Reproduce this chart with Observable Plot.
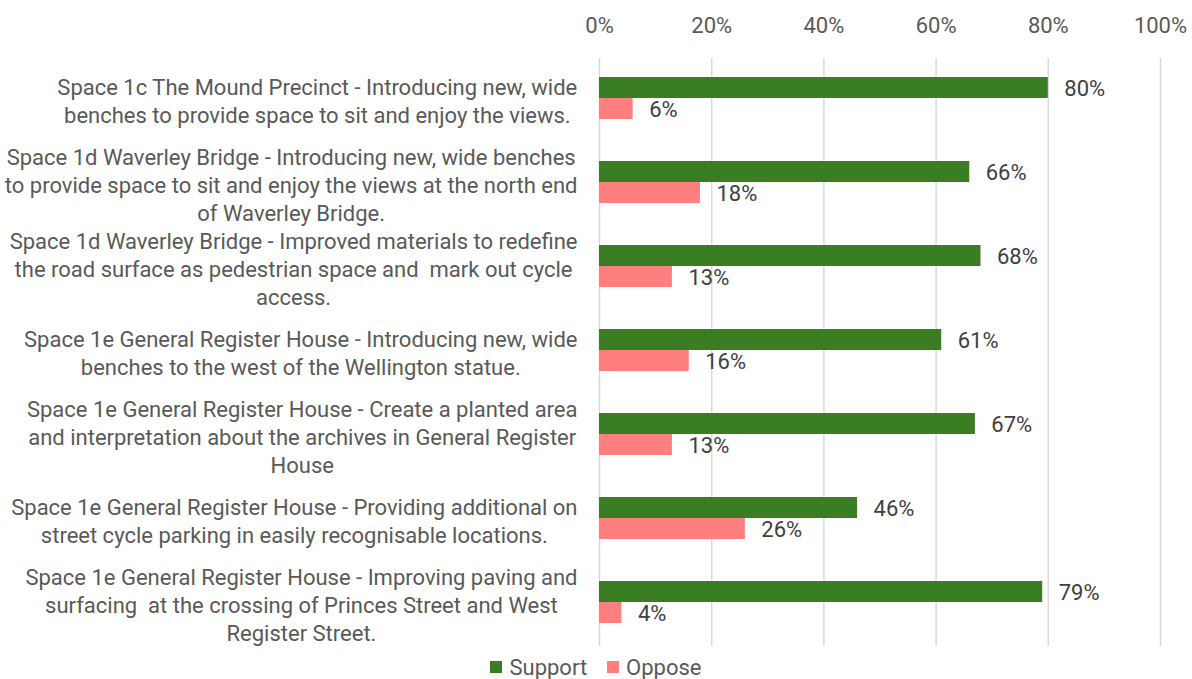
<!DOCTYPE html>
<html>
<head>
<meta charset="utf-8">
<script src="https://cdn.jsdelivr.net/npm/d3@7"></script>
<script src="https://cdn.jsdelivr.net/npm/@observablehq/plot@0.6"></script>
<style>
  html, body { margin: 0; padding: 0; background: #fff; }
  #legend { display: flex; justify-content: center; align-items: center; font-family: Roboto, sans-serif; font-size: 22px; color: #595959; height: 26px; margin-top: 4px; }
  .sw { display: inline-block; width: 12px; height: 12px; margin-right: 7px; }
  .item { display: flex; align-items: center; margin: 0 10px; }
</style>
</head>
<body>
<div id="chart"></div>
<div id="legend"></div>
<script>
const categories = [
  "Space 1c The Mound Precinct - Introducing new, wide\nbenches to provide space to sit and enjoy the views.",
  "Space 1d Waverley Bridge - Introducing new, wide benches\nto provide space to sit and enjoy the views at the north end\nof Waverley Bridge.",
  "Space 1d Waverley Bridge - Improved materials to redefine\nthe road surface as pedestrian space and  mark out cycle\naccess.",
  "Space 1e General Register House - Introducing new, wide\nbenches to the west of the Wellington statue.",
  "Space 1e General Register House - Create a planted area\nand interpretation about the archives in General Register\nHouse",
  "Space 1e General Register House - Providing additional on\nstreet cycle parking in easily recognisable locations.",
  "Space 1e General Register House - Improving paving and\nsurfacing  at the crossing of Princes Street and West\nRegister Street."
];
const support = [80, 66, 68, 61, 67, 46, 79];
const oppose = [6, 18, 13, 16, 13, 26, 4];
const series = ["Support", "Oppose"];
const colors = ["#3A7D22", "#FF7F7F"];
const ticks = [0, 20, 40, 60, 80, 100];

const FONT = "Roboto, sans-serif";
const FS = 22;

const data = categories.flatMap((c, i) => [
  {category: c, series: "Support", value: support[i]},
  {category: c, series: "Oppose", value: oppose[i]}
]);

const ctx = document.createElement("canvas").getContext("2d");
ctx.font = `${FS}px ${FONT}`;
const widths = categories.map(c => Math.max(...c.split("\n").map(l => ctx.measureText(l).width)));

const chart = Plot.plot({
  width: 1192,
  height: 650,
  marginTop: 58,
  marginBottom: 4,
  marginLeft: 599,
  marginRight: 32,
  style: {fontFamily: FONT, fontSize: FS + "px", color: "#595959", background: "white"},
  x: {domain: [0, 100], ticks, tickFormat: d => d + "%", axis: "top", tickSize: 0, tickPadding: 26, label: null},
  y: {domain: series, paddingInner: 0, paddingOuter: 1, align: 0.45, axis: null},
  fy: {domain: categories, padding: 0, axis: null},
  color: {domain: series, range: colors},
  marks: [
    Plot.gridX(ticks, {stroke: "#d9d9d9", strokeOpacity: 1, strokeWidth: 1.5}),
    Plot.barX(data, {fy: "category", y: "series", x: "value", fill: "series"}),
    Plot.text(data, {fy: "category", y: "series", x: "value", text: d => d.value + "%", textAnchor: "start", dx: 16, dy: 1, fill: "#404040"}),
    ...categories.map((c, i) => Plot.text([c], {
      fy: d => d, text: d => d, frameAnchor: "left", textAnchor: "middle",
      lineHeight: 28 / FS, dx: -22 - widths[i] / 2, fill: "#595959"
    }))
  ]
});
document.getElementById("chart").appendChild(chart);

const legend = document.getElementById("legend");
series.forEach((s, i) => {
  const item = document.createElement("div");
  item.className = "item";
  const sw = document.createElement("span");
  sw.className = "sw";
  sw.style.background = colors[i];
  item.appendChild(sw);
  item.appendChild(document.createTextNode(s));
  legend.appendChild(item);
});
</script>
</body>
</html>
